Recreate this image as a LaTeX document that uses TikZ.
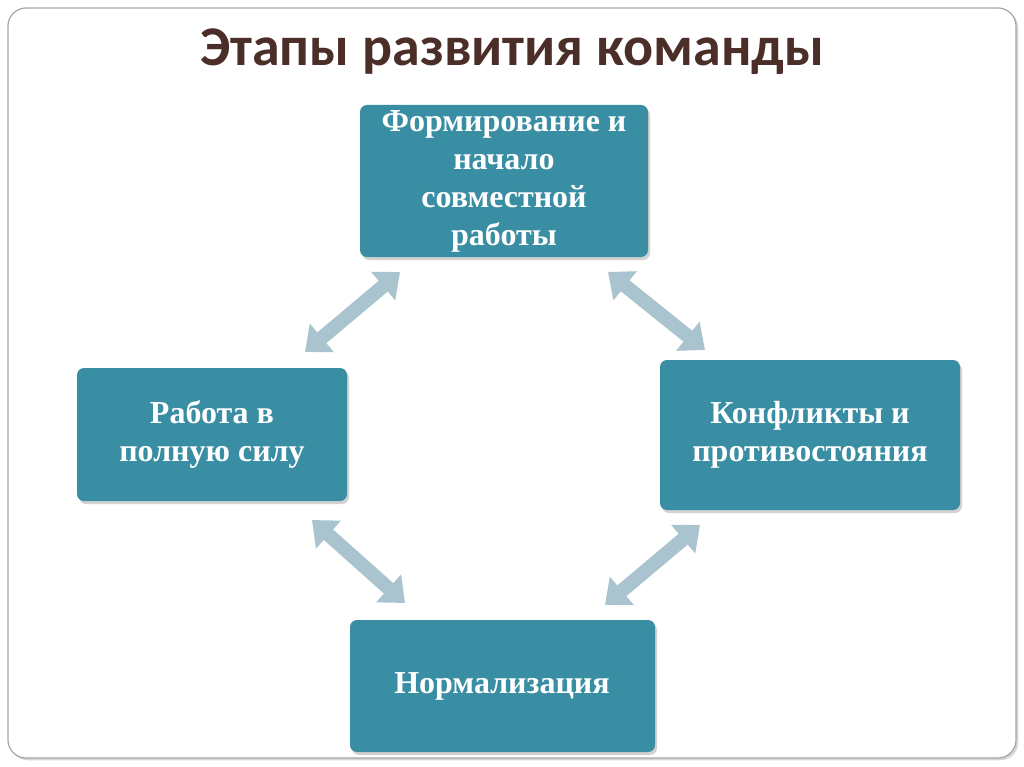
\documentclass[tikz,border=0pt]{standalone}
\usepackage{fontspec}
\setmainfont{Liberation Serif}
\newfontfamily\titlefont{Carlito}
\usetikzlibrary{arrows.meta,shadows}
\definecolor{boxc}{HTML}{3A8EA3}
\definecolor{arrc}{HTML}{A9C3CF}
\definecolor{titc}{HTML}{4B2E28}
\tikzset{
 stage/.style={rounded corners=7pt,fill=boxc,drop shadow={opacity=0.35,shadow xshift=2pt,shadow yshift=-3pt}},
 stagetext/.style={text=white,font=\bfseries\fontsize{32}{38}\selectfont,align=center},
 darr/.style={arrc,line width=14pt,{Triangle[width=36pt,length=22pt]}-{Triangle[width=36pt,length=22pt]}}
}
\begin{document}
\begin{tikzpicture}[x=1pt,y=-1pt]
\useasboundingbox (0,0) rectangle (1024,767);
\fill[white] (0,0) rectangle (1024,767);
\draw[gray!70,fill=white,line width=1.2pt,rounded corners=18pt,drop shadow={opacity=0.3}] (8,8) rectangle (1016,758);
\node[font=\titlefont\bfseries\fontsize{56}{62}\selectfont,text=titc] (title) at (512,52) {Этапы развития команды};
\path[stage] (360,105) rectangle (648,257);
\node[stagetext] (top) at (504,181) {Формирование и\\начало\\совместной\\работы};
\path[stage] (660,360) rectangle (960,510);
\node[stagetext] (right) at (810,435) {Конфликты и\\противостояния};
\path[stage] (350,620) rectangle (655,752);
\node[stagetext] (bottom) at (502,686) {Нормализация};
\path[stage] (77,368) rectangle (347,501);
\node[stagetext] (left) at (212,434) {Работа в\\полную силу};
\coordinate (a1) at (305,352); \coordinate (a2) at (400,272);
\coordinate (b1) at (608,272); \coordinate (b2) at (705,350);
\coordinate (c1) at (700,525); \coordinate (c2) at (605,605);
\coordinate (d1) at (312,520); \coordinate (d2) at (405,603);
\draw[darr] (a1) -- (a2);
\draw[darr] (b1) -- (b2);
\draw[darr] (c1) -- (c2);
\draw[darr] (d1) -- (d2);
\end{tikzpicture}
\end{document}
